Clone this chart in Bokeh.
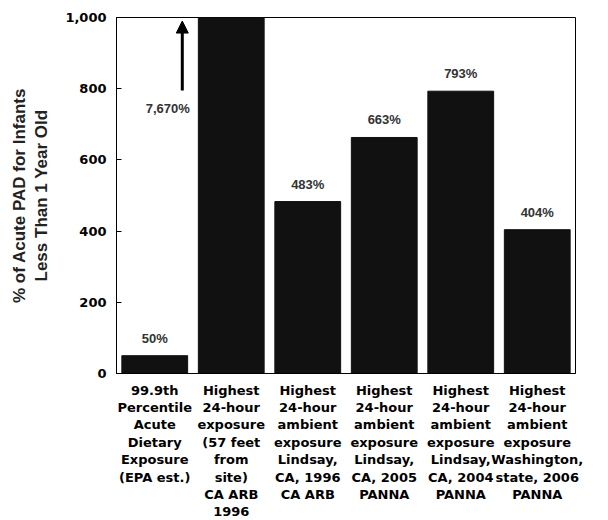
from bokeh.plotting import figure
from bokeh.models import (ColumnDataSource, FixedTicker, NumeralTickFormatter,
                          Range1d, Label, Arrow, NormalHead)
from bokeh.core.properties import value
from bokeh.embed import file_html
from bokeh.resources import INLINE

# ---- data ----
categories = [
    "99.9th\nPercentile\nAcute\nDietary\nExposure\n(EPA est.)",
    "Highest\n24-hour\nexposure\n(57 feet\nfrom\nsite)\nCA ARB\n1996",
    "Highest\n24-hour\nambient\nexposure\nLindsay,\nCA, 1996\nCA ARB",
    "Highest\n24-hour\nambient\nexposure\nLindsay,\nCA, 2005\nPANNA",
    "Highest\n24-hour\nambient\nexposure\nLindsay,\nCA, 2004\nPANNA",
    "Highest\n24-hour\nambient\nexposure\nWashington,\nstate, 2006\nPANNA",
]
values = [50, 7670, 483, 663, 793, 404]
value_labels = ["50%", "7,670%", "483%", "663%", "793%", "404%"]
y_ticks = [0, 200, 400, 600, 800, 1000]
y_max = 1000
clipped_index = 1  # bar that runs off the top of the chart
clipped_label_y = 745
clipped_arrow_from = 795
clipped_arrow_to = 990

positions = list(range(1, len(categories) + 1))

p = figure(frame_width=459, frame_height=356,
           min_border_left=116, min_border_right=17,
           min_border_top=17, min_border_bottom=131,
           x_range=Range1d(0.5, len(categories) + 0.5),
           y_range=Range1d(0, y_max),
           output_backend="svg", toolbar_location=None,
           background_fill_color="white", border_fill_color="white")

src = ColumnDataSource(dict(x=positions, top=values))
p.vbar(x="x", top="top", width=0.86, source=src,
       fill_color="#111111", line_color="#111111")

# value labels for bars within range
lx = [positions[i] for i in range(len(values)) if i != clipped_index]
ly = [values[i] for i in range(len(values)) if i != clipped_index]
lt = [value_labels[i] for i in range(len(values)) if i != clipped_index]
p.text(x=lx, y=ly, text=lt, text_align="center", text_baseline="bottom",
       y_offset=-10, text_font=value("Liberation Sans"), text_font_size="13px",
       text_font_style="bold", text_color="#333333")

# clipped bar: label + arrow to the left of it
cx = positions[clipped_index] - 0.83
p.add_layout(Label(x=cx, y=clipped_label_y, text=value_labels[clipped_index],
                   text_align="center", text_baseline="middle",
                   text_font="Liberation Sans", text_font_size="13px",
                   text_font_style="bold", text_color="#333333"))
ax = positions[clipped_index] - 0.64
p.add_layout(Arrow(x_start=ax, y_start=clipped_arrow_from, x_end=ax, y_end=clipped_arrow_to,
                   line_width=3, line_color="black",
                   end=NormalHead(size=12, fill_color="black", line_color="black")))

# axes
p.xgrid.visible = False
p.ygrid.visible = False
p.outline_line_color = "black"
p.outline_line_width = 1

p.xaxis.ticker = FixedTicker(ticks=positions)
p.xaxis.major_label_overrides = {pos: c for pos, c in zip(positions, categories)}
p.xaxis.major_tick_line_color = None
p.xaxis.minor_tick_line_color = None
p.xaxis.major_label_standoff = 3
p.xaxis.major_label_text_font = "DejaVu Sans"
p.xaxis.major_label_text_font_style = "bold"
p.xaxis.major_label_text_font_size = "13px"
p.xaxis.major_label_text_color = "black"
p.xaxis.major_label_text_line_height = 1.16
p.xaxis.axis_line_color = "black"

p.yaxis.ticker = FixedTicker(ticks=y_ticks)
p.yaxis.formatter = NumeralTickFormatter(format="0,0")
p.yaxis.minor_tick_line_color = None
p.yaxis.major_tick_in = 5
p.yaxis.major_tick_out = 0
p.yaxis.major_label_standoff = 10
p.yaxis.major_label_text_font = "DejaVu Sans"
p.yaxis.major_label_text_font_style = "bold"
p.yaxis.major_label_text_font_size = "13px"
p.yaxis.major_label_text_color = "black"
p.yaxis.axis_line_color = "black"
p.yaxis.axis_label = "% of Acute PAD for Infants\nLess Than 1 Year Old"
p.yaxis.axis_label_text_font = "Liberation Sans"
p.yaxis.axis_label_text_font_style = "bold"
p.yaxis.axis_label_text_font_size = "17px"
p.yaxis.axis_label_text_color = "#222222"
p.yaxis.axis_label_text_line_height = 1.2
p.yaxis.axis_label_standoff = 11

open("out.html", "w").write(file_html(p, INLINE))
